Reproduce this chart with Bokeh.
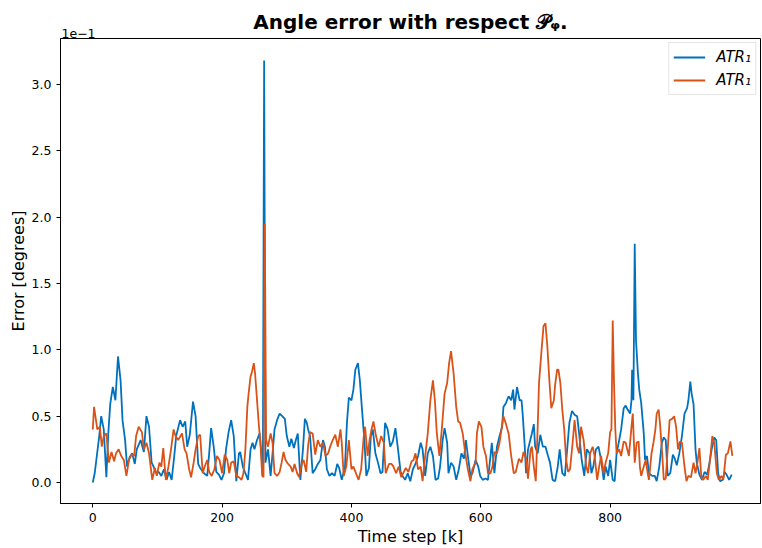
from bokeh.plotting import figure
from bokeh.models import Range1d, FixedTicker, Legend, LegendItem, Title, CustomJSTickFormatter
from bokeh.embed import file_html
from bokeh.resources import INLINE

# values are in units of 1e-1 degrees (axis offset "1e-1")
blue_steps = [0,3,10,13,17,21,24,27,31,35,
 39,43,46,50,53,57,61,65,68,74,
 79,83,87,91,94,98,102,106,110,114,
 118,122,126,129,135,139,143,146,150,155,
 159,163,166,172,177,180,183,187,191,195,
 199,203,206,210,214,218,222,226,228,232,
 236,240,244,247,250,254,258,261,263,265,
 267,271,275,278,281,285,289,293,297,300,
 304,307,311,314,317,321,325,328,331,333,
 336,340,344,348,352,356,359,362,366,370,
 374,378,381,385,390,393,396,400,403,406,
 410,413,416,420,423,427,430,433,437,441,
 445,448,452,456,460,464,468,472,476,479,
 483,487,491,495,499,503,507,510,514,518,
 522,526,530,534,537,541,544,548,550,554,
 558,562,566,570,574,577,580,584,587,592,
 596,599,603,607,611,615,617,621,625,629,
 633,635,639,643,647,650,652,656,660,663,
 665,668,670,673,677,679,682,684,688,692,
 696,700,704,707,711,715,719,722,726,730,
 733,737,741,745,749,752,756,760,764,768,
 771,774,778,782,786,790,793,797,800,804,
 807,810,814,817,821,824,827,831,833,834,
 836,838,840,843,845,848,852,854,857,860,
 865,869,872,876,880,883,886,889,893,897,
 900,903,907,911,915,919,921,924,926,929,
 932,934,938,942,946,950,953,957,961,964,
 967,970,974,977,980,984,988]

blue_error = [0.00,0.07,0.35,0.50,0.40,0.04,0.37,0.59,0.72,0.62,
 0.95,0.77,0.47,0.32,0.12,0.19,0.22,0.14,0.25,0.32,
 0.23,0.50,0.42,0.15,0.12,0.07,0.08,0.05,0.10,0.02,
 0.08,0.02,0.20,0.35,0.47,0.42,0.46,0.27,0.36,0.61,
 0.50,0.14,0.11,0.07,0.05,0.22,0.41,0.27,0.08,0.06,
 0.02,0.07,0.25,0.38,0.47,0.35,0.01,0.22,0.23,0.12,
 0.07,0.02,0.25,0.30,0.25,0.32,0.37,0.20,0.07,3.18,
 0.15,0.25,0.05,0.22,0.40,0.47,0.52,0.50,0.48,0.35,
 0.27,0.33,0.26,0.32,0.37,0.02,0.25,0.48,0.45,0.40,
 0.35,0.07,0.10,0.14,0.17,0.32,0.27,0.10,0.05,0.07,
 0.05,0.14,0.11,0.02,0.12,0.45,0.64,0.62,0.70,0.85,
 0.90,0.77,0.57,0.32,0.05,0.11,0.35,0.40,0.22,0.15,
 0.07,0.08,0.45,0.40,0.27,0.31,0.41,0.25,0.08,0.05,
 0.02,0.07,0.01,0.10,0.14,0.20,0.30,0.25,0.05,0.22,
 0.27,0.20,0.02,0.03,0.12,0.32,0.41,0.30,0.07,0.15,
 0.12,0.02,0.10,0.22,0.18,0.32,0.20,0.05,0.07,0.17,
 0.12,0.05,0.02,0.03,0.02,0.20,0.30,0.07,0.27,0.35,
 0.42,0.57,0.60,0.65,0.62,0.70,0.55,0.72,0.62,0.62,
 0.50,0.27,0.07,0.25,0.33,0.37,0.44,0.27,0.22,0.36,
 0.27,0.27,0.20,0.15,0.02,0.01,0.12,0.25,0.07,0.05,
 0.22,0.45,0.54,0.51,0.50,0.37,0.17,0.05,0.25,0.22,
 0.07,0.12,0.25,0.27,0.17,0.02,0.12,0.05,0.17,0.02,
 0.01,0.22,0.32,0.40,0.56,0.58,0.55,0.52,0.62,0.85,
 0.62,1.80,1.07,0.82,0.70,0.60,0.37,0.17,0.20,0.07,
 0.05,0.05,0.01,0.12,0.30,0.34,0.32,0.05,0.07,0.21,
 0.18,0.13,0.22,0.35,0.52,0.56,0.62,0.76,0.67,0.59,
 0.25,0.15,0.06,0.02,0.08,0.06,0.13,0.25,0.34,0.32,
 0.07,0.01,0.02,0.08,0.06,0.02,0.06]

orange_steps = [0,2,7,11,14,17,21,25,29,33,
 36,40,44,48,52,56,60,64,67,71,
 76,79,83,87,92,96,99,103,106,109,
 113,117,121,125,128,132,138,142,145,149,
 152,156,159,163,166,170,173,177,180,184,
 188,192,196,200,204,208,211,214,218,222,
 226,230,233,236,239,241,244,246,249,251,
 254,257,259,262,264,266,268,271,275,278,
 281,285,289,292,295,298,302,306,309,312,
 316,319,323,326,330,333,336,340,344,348,
 352,356,360,364,367,371,375,379,383,385,
 388,392,396,400,403,407,411,415,419,421,
 425,428,431,434,438,442,446,450,453,458,
 462,465,469,473,477,481,484,488,493,496,
 499,503,507,510,514,518,522,526,529,532,
 536,540,544,548,551,554,558,562,565,568,
 572,576,580,584,587,592,594,597,601,604,
 608,611,615,618,621,625,629,632,635,639,
 643,647,651,654,659,663,666,670,673,677,
 679,682,685,688,690,694,697,700,703,706,
 709,713,715,718,720,723,726,729,732,735,
 738,742,745,749,752,755,759,763,766,769,
 773,776,780,783,786,790,793,797,800,802,
 804,806,808,810,814,817,821,824,829,833,
 835,838,841,844,846,848,852,855,858,860,
 864,867,870,872,875,877,880,883,886,889,
 892,896,899,902,905,908,911,915,918,921,
 925,929,932,935,938,941,944,948,951,955,
 958,961,965,968,972,975,979,982,986,989]

orange_error = [0.40,0.57,0.40,0.42,0.27,0.35,0.37,0.15,0.23,0.16,
 0.22,0.25,0.20,0.17,0.05,0.17,0.21,0.20,0.35,0.42,
 0.38,0.25,0.30,0.22,0.02,0.11,0.05,0.15,0.12,0.26,
 0.02,0.12,0.25,0.40,0.35,0.32,0.37,0.25,0.22,0.10,
 0.04,0.15,0.25,0.35,0.36,0.07,0.12,0.17,0.08,0.05,
 0.10,0.20,0.17,0.07,0.21,0.17,0.07,0.15,0.16,0.05,
 0.04,0.02,0.07,0.25,0.57,0.67,0.80,0.83,0.90,0.82,
 0.62,0.42,0.32,0.05,0.04,1.95,0.32,0.27,0.37,0.30,
 0.07,0.05,0.08,0.15,0.23,0.17,0.14,0.12,0.08,0.14,
 0.07,0.04,0.14,0.17,0.08,0.28,0.38,0.37,0.21,0.32,
 0.27,0.30,0.20,0.22,0.27,0.32,0.36,0.27,0.40,0.30,
 0.05,0.12,0.32,0.10,0.12,0.07,0.02,0.10,0.35,0.42,
 0.20,0.32,0.40,0.46,0.35,0.27,0.35,0.30,0.07,0.14,
 0.14,0.12,0.07,0.12,0.04,0.08,0.11,0.08,0.16,0.17,
 0.22,0.10,0.12,0.01,0.20,0.37,0.62,0.77,0.62,0.37,
 0.20,0.42,0.67,0.75,0.90,0.99,0.82,0.57,0.46,0.45,
 0.37,0.22,0.10,0.01,0.10,0.15,0.37,0.46,0.42,0.27,
 0.20,0.07,0.07,0.12,0.23,0.22,0.30,0.40,0.50,0.44,
 0.37,0.20,0.07,0.08,0.18,0.15,0.23,0.18,0.03,0.25,
 0.27,0.12,0.01,0.42,0.75,1.00,1.18,1.20,1.02,0.77,
 0.56,0.62,0.74,0.85,0.85,0.75,0.55,0.40,0.17,0.08,
 0.10,0.30,0.47,0.27,0.22,0.42,0.32,0.12,0.07,0.22,
 0.27,0.20,0.02,0.12,0.20,0.07,0.15,0.22,0.38,0.40,
 1.22,0.75,0.40,0.22,0.25,0.20,0.31,0.30,0.20,0.42,
 0.52,0.15,0.30,0.31,0.12,0.05,0.12,0.17,0.07,0.02,
 0.22,0.30,0.40,0.52,0.55,0.45,0.25,0.02,0.03,0.25,
 0.47,0.48,0.50,0.42,0.25,0.31,0.30,0.12,0.01,0.05,
 0.04,0.15,0.07,0.15,0.26,0.04,0.02,0.05,0.02,0.20,
 0.35,0.30,0.07,0.02,0.05,0.02,0.21,0.22,0.31,0.20]

x_ticks = [0, 200, 400, 600, 800]
y_ticks = [0.0, 0.5, 1.0, 1.5, 2.0, 2.5, 3.0]
series_labels = ["ATR\u2081", "ATR\u2081"]
title_text = "Angle error with respect \U0001D4AB\u1D69."
x_label = "Time step [k]"
y_label = "Error [degrees]"
offset_text = "1e\u22121"

FONT = "DejaVu Sans"
X0, X1 = -49.9, 1032.5
Y0, Y1 = -0.158, 3.346

p = figure(width=762, height=548, output_backend="svg", toolbar_location=None,
           title=None,
           x_range=Range1d(X0, X1), y_range=Range1d(Y0, Y1),
           min_border_left=60, min_border_right=2, min_border_top=38, min_border_bottom=44)

# offset text sits just above the frame; the main title overlaps its row
p.add_layout(Title(text=offset_text, align="left", text_font=FONT,
                   text_font_size="12.5px", text_font_style="normal",
                   text_color="black", standoff=2, offset=1), "above")
p.add_layout(Title(text=title_text, align="center", text_font=FONT,
                   text_font_size="20px", text_font_style="bold",
                   text_color="black", standoff=-16), "above")

p.grid.visible = False
p.background_fill_color = "white"
p.border_fill_color = "white"
p.outline_line_color = "black"
p.outline_line_alpha = 1.0
p.outline_line_width = 1

for ax in (p.xaxis[0], p.yaxis[0]):
    ax.major_tick_out = 4
    ax.major_tick_in = 0
    ax.minor_tick_out = 0
    ax.minor_tick_in = 0
    ax.axis_line_color = "black"
    ax.major_tick_line_color = "black"
    ax.major_label_text_font = FONT
    ax.major_label_text_font_size = "12.5px"
    ax.major_label_text_color = "black"
    ax.axis_label_text_font = FONT
    ax.axis_label_text_font_size = "16px"
    ax.axis_label_text_font_style = "normal"
    ax.axis_label_text_color = "black"

p.xaxis.ticker = FixedTicker(ticks=x_ticks)
p.yaxis.ticker = FixedTicker(ticks=y_ticks)
p.yaxis.formatter = CustomJSTickFormatter(code="return tick.toFixed(1);")
p.xaxis.axis_label = x_label
p.yaxis.axis_label = y_label
p.xaxis.axis_label_standoff = 2
p.yaxis.axis_label_standoff = 1

r1 = p.line(blue_steps, blue_error, line_color="#0072BD", line_width=1.8)
r2 = p.line(orange_steps, orange_error, line_color="#D95319", line_width=1.8)

legend = Legend(items=[LegendItem(label=series_labels[0], renderers=[r1]),
                       LegendItem(label=series_labels[1], renderers=[r2])],
                location="top_right")
legend.label_text_font = FONT
legend.label_text_font_style = "italic"
legend.label_text_font_size = "15px"
legend.label_text_color = "black"
legend.glyph_width = 32
legend.label_standoff = 11
legend.spacing = 3
legend.padding = 4
legend.margin = 4
legend.border_line_color = "#cccccc"
legend.border_line_width = 1
legend.background_fill_alpha = 0.8
p.add_layout(legend)

open("out.html", "w").write(file_html(p, INLINE))
